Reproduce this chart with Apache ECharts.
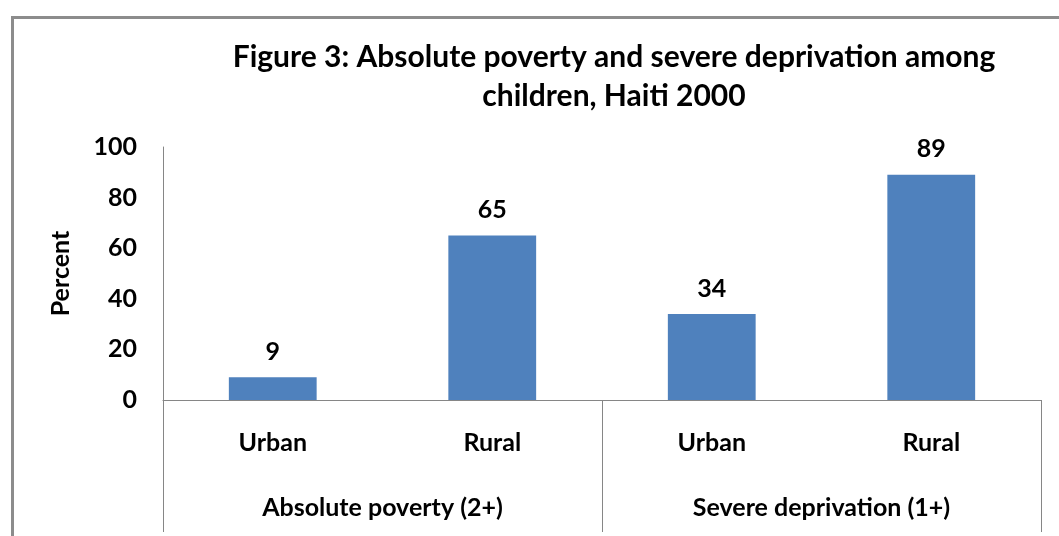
<!DOCTYPE html>
<html>
<head>
<meta charset="utf-8">
<script src="https://cdn.jsdelivr.net/npm/echarts@6/dist/echarts.min.js"></script>
<style>
html,body{margin:0;padding:0;background:#fff;}
#chart{width:1059px;height:536px;}
</style>
</head>
<body>
<div id="chart"></div>
<script>
const titleLines = ['Figure 3: Absolute poverty and severe deprivation among', 'children, Haiti 2000'];
const categories = ['Urban', 'Rural', 'Urban', 'Rural'];
const groups = ['Absolute poverty (2+)', 'Severe deprivation (1+)'];
const values = [9, 65, 34, 89];
const yTicks = [0, 20, 40, 60, 80, 100];
const yAxisName = 'Percent';

const FONT = 'Lato';
const FS = 25;
const chart = echarts.init(document.getElementById('chart'), null, {renderer: 'canvas'});
chart.setOption({
  animation: false,
  backgroundColor: '#fff',
  graphic: [{
    type: 'rect', left: 10, top: 15, silent: true,
    shape: {width: 1200, height: 700},
    style: {fill: 'none', stroke: '#8c8c8c', lineWidth: 3}
  }],
  title: {
    text: titleLines.join('\n'),
    left: 609, top: 33, textAlign: 'center',
    textStyle: {fontFamily: FONT, fontWeight: 'bold', fontSize: 30, lineHeight: 39, color: '#000'}
  },
  grid: {left: 163, right: 18, top: 147, bottom: 136},
  xAxis: [{
    type: 'category', data: categories, position: 'bottom',
    axisLine: {lineStyle: {color: '#868686', width: 1}},
    axisTick: {show: false},
    axisLabel: {margin: 30, fontFamily: FONT, fontWeight: 'bold', fontSize: FS, color: '#000'}
  }, {
    type: 'category', data: groups, position: 'bottom',
    axisLine: {show: false},
    axisTick: {show: true, length: 132, lineStyle: {color: '#868686', width: 1}},
    axisLabel: {margin: 95, fontFamily: FONT, fontWeight: 'bold', fontSize: FS, color: '#000'}
  }],
  yAxis: {
    type: 'value', min: yTicks[0], max: yTicks[yTicks.length - 1], interval: 20,
    name: yAxisName, nameLocation: 'middle', nameGap: 90, nameRotate: 90,
    nameTextStyle: {fontFamily: FONT, fontWeight: 'bold', fontSize: FS, color: '#000'},
    axisLine: {show: true, lineStyle: {color: '#868686', width: 1}},
    axisTick: {show: false},
    splitLine: {show: false},
    axisLabel: {margin: 26, fontFamily: FONT, fontWeight: 'bold', fontSize: FS, color: '#000'}
  },
  series: [{
    type: 'bar', data: values, xAxisIndex: 0,
    barWidth: '40%',
    itemStyle: {color: '#4f81bd'},
    label: {show: true, position: 'top', distance: 13, fontFamily: FONT, fontWeight: 'bold', fontSize: FS, color: '#000'}
  }]
});
</script>
</body>
</html>
